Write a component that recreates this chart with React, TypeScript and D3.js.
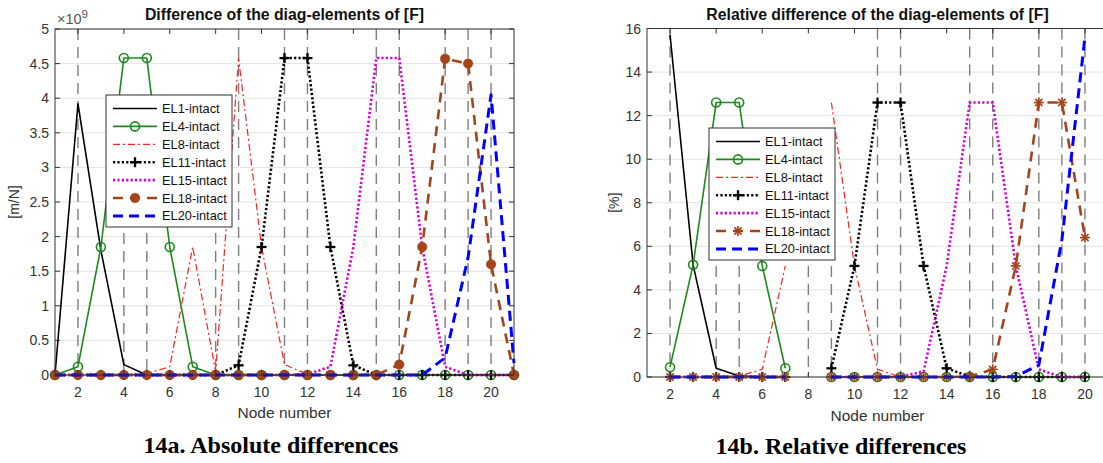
import React, { useEffect } from 'react';
import * as d3 from 'd3';

// ---------- data ----------
const nodes = [1, 2, 3, 4, 5, 6, 7, 8, 9, 10, 11, 12, 13, 14, 15, 16, 17, 18, 19, 20, 21];
const xTicks = [2, 4, 6, 8, 10, 12, 14, 16, 18, 20];
const refNodes = [2, 4, 5, 8, 9, 11, 12, 15, 16, 18, 19, 20];
const seriesNames = ['EL1-intact', 'EL4-intact', 'EL8-intact', 'EL11-intact', 'EL15-intact', 'EL18-intact', 'EL20-intact'];

// absolute differences (x 1e9 m/N)
const absEL1 = [0, 3.92, 1.8, 0.15, 0, 0, 0, 0, 0, 0, 0, 0, 0, 0, 0, 0, 0, 0, 0, 0, 0];
const absEL4 = [0, 0.12, 1.85, 4.58, 4.58, 1.85, 0.12, 0, 0, 0, 0, 0, 0, 0, 0, 0, 0, 0, 0, 0, 0];
const absEL8 = [0, 0, 0, 0, 0.02, 0.12, 1.85, 0.05, 4.58, 1.85, 0.15, 0.01, 0, 0, 0, 0, 0, 0, 0, 0, 0];
const absEL11 = [0, 0, 0, 0, 0, 0, 0, 0, 0.14, 1.85, 4.58, 4.58, 1.85, 0.14, 0, 0, 0, 0, 0, 0, 0];
const absEL15 = [0, 0, 0, 0, 0, 0, 0, 0, 0, 0, 0, 0.01, 0.12, 1.85, 4.58, 4.58, 1.85, 0.12, 0, 0, 0];
const absEL18 = [0, 0, 0, 0, 0, 0, 0, 0, 0, 0, 0, 0, 0, 0, 0, 0.15, 1.85, 4.57, 4.5, 1.6, 0];
const absEL20 = [0, 0, 0, 0, 0, 0, 0, 0, 0, 0, 0, 0, 0, 0, 0, 0, 0, 0.25, 1.7, 4.05, 0.17];
const absYTicks = [0, 0.5, 1, 1.5, 2, 2.5, 3, 3.5, 4, 4.5, 5];

// relative differences (%)
const N = null;
const relEL1 = [N, 15.7, 5.15, 0.4, 0.05, 0, 0, N, 0, 0, 0, 0, 0, 0, 0, 0, 0, 0, 0, 0, N];
const relEL4 = [N, 0.45, 5.15, 12.6, 12.6, 5.1, 0.4, N, 0, 0, 0, 0, 0, 0, 0, 0, 0, 0, 0, 0, N];
const relEL8 = [N, 0, 0, 0, 0.05, 0.35, 5.1, N, 12.6, 5.1, 0.35, 0, 0, 0, 0, 0, 0, 0, 0, 0, N];
const relEL11 = [N, 0, 0, 0, 0, 0, 0, N, 0.4, 5.1, 12.6, 12.6, 5.1, 0.4, 0.02, 0, 0, 0, 0, 0, N];
const relEL15 = [N, 0, 0, 0, 0, 0, 0, N, 0, 0, 0, 0.02, 0.25, 5.1, 12.6, 12.6, 5.1, 0.35, 0, 0, N];
const relEL18 = [N, 0, 0, 0, 0, 0, 0, N, 0, 0, 0, 0, 0, 0, 0.02, 0.35, 5.1, 12.6, 12.6, 6.4, N];
const relEL20 = [N, 0, 0, 0, 0, 0, 0, N, 0, 0, 0, 0, 0, 0, 0, 0, 0.02, 0.55, 6.3, 15.6, N];
const relYTicks = [0, 2, 4, 6, 8, 10, 12, 14, 16];

// ---------- styles ----------
type Marker = 'none' | 'circle' | 'plus' | 'dot' | 'asterisk';
const baseStyles: { color: string; width: number; dash: string | null; marker: Marker }[] = [
  { color: '#000000', width: 1.6, dash: null, marker: 'none' },
  { color: '#1b8a1b', width: 1.6, dash: null, marker: 'circle' },
  { color: '#ff2020', width: 1.2, dash: '7,3,2,3', marker: 'none' },
  { color: '#000000', width: 2.6, dash: '2.2,2.2', marker: 'plus' },
  { color: '#d400d4', width: 2.6, dash: '2.2,2.2', marker: 'none' },
  { color: '#a4441a', width: 2.6, dash: '10,7', marker: 'dot' },
  { color: '#0000ff', width: 3, dash: '10,6', marker: 'none' },
];

const AX = '#333333';
const FONT = "'Liberation Sans', Arial, Helvetica, sans-serif";

function MarkerShape({ kind, x, y, color }: { kind: Marker; x: number; y: number; color: string }) {
  if (kind === 'circle') return <circle cx={x} cy={y} r={4.5} fill="none" stroke={color} strokeWidth={1.6} />;
  if (kind === 'dot') return <circle cx={x} cy={y} r={4.8} fill={color} stroke={color} strokeWidth={0.5} />;
  if (kind === 'plus')
    return (
      <g stroke={color} strokeWidth={2.3}>
        <line x1={x - 5} y1={y} x2={x + 5} y2={y} />
        <line x1={x} y1={y - 5} x2={x} y2={y + 5} />
      </g>
    );
  if (kind === 'asterisk')
    return (
      <g stroke={color} strokeWidth={1.7}>
        <line x1={x - 5} y1={y} x2={x + 5} y2={y} />
        <line x1={x} y1={y - 5} x2={x} y2={y + 5} />
        <line x1={x - 3.6} y1={y - 3.6} x2={x + 3.6} y2={y + 3.6} />
        <line x1={x - 3.6} y1={y + 3.6} x2={x + 3.6} y2={y - 3.6} />
      </g>
    );
  return null;
}

type PanelCfg = {
  x0: number; x1: number; y0: number; y1: number; yMax: number; yTicks: number[];
  series: (number | null)[][]; el18Marker: Marker;
  legend: { x: number; y: number; w: number; h: number };
  title: string; ylabel: string; ylabelX: number; xlabelY: number; exponent: boolean;
};

function Panel({ c }: { c: PanelCfg }) {
  const xs = d3.scaleLinear().domain([1, 21]).range([c.x0, c.x1]);
  const ys = d3.scaleLinear().domain([0, c.yMax]).range([c.y0, c.y1]);
  const styles = baseStyles.map((s, i) => (i === 5 ? { ...s, marker: c.el18Marker } : s));
  const line = d3
    .line<[number, number | null]>()
    .defined((d) => d[1] !== null && !isNaN(d[1] as number))
    .x((d) => xs(d[0]))
    .y((d) => ys(d[1] as number));
  const tick = 5;
  const lg = c.legend;
  const midX = (c.x0 + c.x1) / 2;
  const midY = (c.y0 + c.y1) / 2;
  return (
    <g fontFamily={FONT}>
      {c.yTicks.map((t) => (
        <line key={'g' + t} x1={c.x0} x2={c.x1} y1={ys(t)} y2={ys(t)} stroke="#e3e3e3" strokeWidth={1} />
      ))}
      {refNodes.map((n) => {
        const x = xs(n);
        const under = x >= lg.x && x <= lg.x + lg.w;
        const top = under ? lg.y + lg.h + 6 : c.y1;
        return (
          <line key={'r' + n} x1={x} x2={x} y1={top} y2={c.y0} stroke="#7f7f7f" strokeWidth={1.4} strokeDasharray="11,7" />
        );
      })}
      {c.series.map((vals, i) => {
        const st = styles[i];
        const pts = nodes.map((n, k) => [n, vals[k]] as [number, number | null]);
        return (
          <g key={'s' + i}>
            <path d={line(pts) || ''} fill="none" stroke={st.color} strokeWidth={st.width}
              strokeDasharray={st.dash || undefined} strokeLinejoin="round" />
            {st.marker !== 'none' &&
              pts.filter((p) => p[1] !== null).map((p) => (
                <MarkerShape key={p[0]} kind={st.marker} x={xs(p[0])} y={ys(p[1] as number)} color={st.color} />
              ))}
          </g>
        );
      })}
      <rect x={c.x0} y={c.y1} width={c.x1 - c.x0} height={c.y0 - c.y1} fill="none" stroke={AX} strokeWidth={1} />
      {xTicks.map((t) => (
        <g key={'xt' + t}>
          <line x1={xs(t)} x2={xs(t)} y1={c.y0} y2={c.y0 - tick} stroke={AX} />
          <line x1={xs(t)} x2={xs(t)} y1={c.y1} y2={c.y1 + tick} stroke={AX} />
          <text x={xs(t)} y={c.y0 + 22} textAnchor="middle" fontSize={14} fill={AX}>{t}</text>
        </g>
      ))}
      {c.yTicks.map((t) => (
        <g key={'yt' + t}>
          <line x1={c.x0} x2={c.x0 + tick} y1={ys(t)} y2={ys(t)} stroke={AX} />
          <line x1={c.x1} x2={c.x1 - tick} y1={ys(t)} y2={ys(t)} stroke={AX} />
          <text x={c.x0 - 6} y={ys(t) + 5} textAnchor="end" fontSize={14} fill={AX}>{String(t)}</text>
        </g>
      ))}
      {c.exponent && (
        <text x={c.x0 + 2} y={c.y1 - 5} fontSize={14.5} fill="#555">
          ×10<tspan dy={-6} fontSize={11.5}>9</tspan>
        </text>
      )}
      <text x={midX} y={20} textAnchor="middle" fontSize={15.8} fontWeight="bold" fill="#111">{c.title}</text>
      <text x={midX} y={c.xlabelY} textAnchor="middle" fontSize={15.5} fill={AX}>Node number</text>
      <text transform={`translate(${c.ylabelX},${midY}) rotate(-90)`} textAnchor="middle" fontSize={14} fill={AX}>{c.ylabel}</text>
      <rect x={lg.x} y={lg.y} width={lg.w} height={lg.h} fill="#fff" stroke={AX} strokeWidth={1} />
      {seriesNames.map((name, i) => {
        const st = styles[i];
        const yy = lg.y + 13.5 + i * 17.9;
        return (
          <g key={'l' + i}>
            <line x1={lg.x + 7} x2={lg.x + 51} y1={yy} y2={yy} stroke={st.color} strokeWidth={st.width}
              strokeDasharray={st.dash || undefined} />
            {st.marker !== 'none' && <MarkerShape kind={st.marker} x={lg.x + 29} y={yy} color={st.color} />}
            <text x={lg.x + 56} y={yy + 4.5} fontSize={12.8} fill="#111">{name}</text>
          </g>
        );
      })}
    </g>
  );
}

const leftCfg: PanelCfg = {
  x0: 55, x1: 514, y0: 375, y1: 29, yMax: 5, yTicks: absYTicks,
  series: [absEL1, absEL4, absEL8, absEL11, absEL15, absEL18, absEL20], el18Marker: 'dot',
  legend: { x: 106, y: 95, w: 126, h: 132 },
  title: 'Difference of the diag-elements of [F]', ylabel: '[m/N]', ylabelX: 19, xlabelY: 418, exponent: true,
};
const rightCfg: PanelCfg = {
  x0: 647, x1: 1108, y0: 377, y1: 28.5, yMax: 16, yTicks: relYTicks,
  series: [relEL1, relEL4, relEL8, relEL11, relEL15, relEL18, relEL20], el18Marker: 'asterisk',
  legend: { x: 709, y: 128, w: 126, h: 132 },
  title: 'Relative difference of the diag-elements of [F]', ylabel: '[%]', ylabelX: 619, xlabelY: 421, exponent: false,
};

export default function App() {
  useEffect(() => {
    document.body.style.margin = '0';
    document.body.style.overflow = 'hidden';
  }, []);
  return (
    <svg width={1103} height={463} style={{ position: 'absolute', left: 0, top: 0, display: 'block', background: '#fff' }}>
      <rect x={0} y={0} width={1103} height={463} fill="#fff" />
      <Panel c={leftCfg} />
      <Panel c={rightCfg} />
      <text x={271} y={453} textAnchor="middle" fontSize={24} fontWeight="bold"
        fontFamily="'Liberation Serif', 'Times New Roman', serif" fill="#000">14a. Absolute differences</text>
      <text x={841} y={454} textAnchor="middle" fontSize={24} fontWeight="bold"
        fontFamily="'Liberation Serif', 'Times New Roman', serif" fill="#000">14b. Relative differences</text>
    </svg>
  );
}
